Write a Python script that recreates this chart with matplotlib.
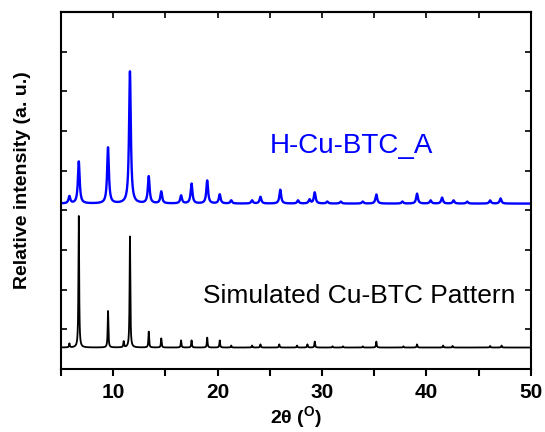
import numpy as np
import matplotlib.pyplot as plt
from matplotlib.ticker import MultipleLocator, NullFormatter

plt.rcParams['font.family'] = ['Liberation Sans', 'DejaVu Sans']
plt.rcParams['mathtext.fontset'] = 'custom'
plt.rcParams['mathtext.rm'] = 'Liberation Sans'
plt.rcParams['mathtext.bf'] = 'Liberation Sans:bold'

# peak positions (2theta) and heights
sample_pos = [5.8, 6.7, 9.5, 11.6, 13.4, 14.6, 16.5, 17.5, 19.0, 20.2, 21.3,
              23.3, 24.1, 26.0, 27.7, 28.8, 29.3, 30.5, 31.8, 33.9, 35.2,
              37.7, 39.1, 40.4, 41.5, 42.6, 43.9, 46.1, 47.1]
sample_h = [0.18, 1.06, 1.41, 3.33, 0.68, 0.30, 0.20, 0.50, 0.58, 0.23, 0.08,
            0.08, 0.17, 0.35, 0.08, 0.10, 0.28, 0.05, 0.05, 0.05, 0.23,
            0.05, 0.25, 0.08, 0.15, 0.08, 0.05, 0.08, 0.13]
sample_base = 4.17

sim_pos = [5.8, 6.7, 9.5, 11.0, 11.6, 13.4, 14.6, 16.5, 17.5, 19.0, 20.2,
           21.3, 23.3, 24.1, 25.9, 27.6, 28.6, 29.3, 31.0, 32.0, 33.9, 35.2,
           37.8, 39.1, 41.6, 42.5, 46.1, 47.2]
sim_h = [0.10, 3.33, 0.92, 0.15, 2.80, 0.40, 0.23, 0.18, 0.18, 0.25, 0.18,
         0.05, 0.05, 0.08, 0.08, 0.05, 0.08, 0.15, 0.03, 0.03, 0.03, 0.15,
         0.03, 0.08, 0.05, 0.04, 0.04, 0.05]
sim_base = 0.54

x_ticks = [10, 20, 30, 40, 50]


def pattern(x, pos, h, w):
    y = np.zeros_like(x)
    for p, a in zip(pos, h):
        y += a / (1 + ((x - p) / w) ** 2)
    return y


two_theta = np.linspace(5, 50, 6001)
y_sample = sample_base + pattern(two_theta, sample_pos, sample_h, 0.1)
y_sim = sim_base + pattern(two_theta, sim_pos, sim_h, 0.04)

fig = plt.figure(figsize=(5.45, 4.32), dpi=100)
ax = fig.add_axes([0.112, 0.146, 0.862, 0.826])

ax.plot(two_theta, y_sample, color='#0000ff', lw=1.7)
ax.plot(two_theta, y_sim, color='black', lw=1.3)

ax.text(25.0, 5.45, 'H-Cu-BTC_A', color='#0000ff', fontsize=20)
ax.text(18.6, 1.67, 'Simulated Cu-BTC Pattern', color='black', fontsize=19)

ax.set_xlim(5, 50)
ax.set_ylim(0, 9)
ax.set_xticks(x_ticks)
ax.xaxis.set_minor_locator(MultipleLocator(5))
ax.yaxis.set_major_locator(MultipleLocator(1))
ax.yaxis.set_major_formatter(NullFormatter())
ax.tick_params(axis='x', which='both', direction='out', length=5, width=1.5,
               labelsize=15, pad=5)
ax.tick_params(axis='y', which='both', direction='in', length=4, width=1.2,
               left=True, right=True)
for lab in ax.get_xticklabels():
    lab.set_fontweight('bold')

top = ax.secondary_xaxis('top')
top.set_xticks([5, 10, 15, 20, 25, 30, 35, 40, 45, 50])
top.tick_params(direction='in', length=4, width=1.2, labeltop=False)
top.spines['top'].set_linewidth(1.5)

for s in ax.spines.values():
    s.set_linewidth(1.5)

ax.set_xlabel(r'2θ ($\mathbf{^{O}}$)', fontsize=14, fontweight='bold',
              labelpad=2)
ax.set_ylabel('Relative intensity (a. u.)', fontsize=14, fontweight='bold')
ax.yaxis.set_label_coords(-0.065, 0.53)

fig.savefig('out.png', dpi=100)
